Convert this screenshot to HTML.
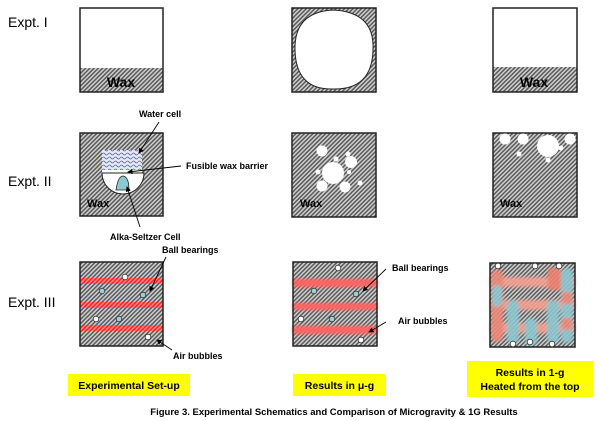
<!DOCTYPE html>
<html><head><meta charset="utf-8"><style>
body{margin:0;background:#fff;}
svg{display:block;font-family:"Liberation Sans",Arial,sans-serif;}
</style></head><body>
<svg width="600" height="421" viewBox="0 0 600 421" xmlns="http://www.w3.org/2000/svg">
<defs>
<pattern id="h" width="3" height="3" patternUnits="userSpaceOnUse" patternTransform="rotate(45)">
<rect width="3" height="3" fill="#cfcfcf"/><rect width="1.5" height="3" fill="#5a5a5a"/>
</pattern>
<pattern id="r" width="3" height="3" patternUnits="userSpaceOnUse" patternTransform="rotate(45)">
<rect width="3" height="3" fill="#ff8a8a"/><rect width="1.5" height="3" fill="#ff2020"/>
</pattern>
<pattern id="w" width="6" height="4" patternUnits="userSpaceOnUse">
<rect width="6" height="4" fill="#e8e8f8"/><path d="M0 2 Q1.5 0 3 2 T6 2" stroke="#5060c0" stroke-width="0.8" fill="none"/>
</pattern>
<marker id="a" markerWidth="6" markerHeight="6" refX="5" refY="3" orient="auto"><path d="M0,0 L6,3 L0,6z" fill="#000"/></marker>
<filter id="b"><feGaussianBlur stdDeviation="1.5"/></filter>
</defs>
<g font-size="14" fill="#000">
<text x="8" y="27">Expt. I</text>
<text x="8" y="186">Expt. II</text>
<text x="8" y="307">Expt. III</text>
</g>
<!-- Row 1 -->
<rect x="80" y="8" width="83" height="84" fill="#fff"/>
<rect x="80" y="68" width="83" height="24" fill="url(#h)"/>
<rect x="80" y="8" width="83" height="84" fill="none" stroke="#222" stroke-width="1.5"/>
<text x="121" y="87" font-size="14" font-weight="bold" text-anchor="middle">Wax</text>
<rect x="292" y="8" width="84" height="84" fill="url(#h)"/>
<path d="M333,10 Q375,12 373,50 Q372,90 333,89 Q296,90 295,50 Q294,12 333,10Z" fill="#fff" stroke="#222"/>
<rect x="292" y="8" width="84" height="84" fill="none" stroke="#222" stroke-width="1.5"/>
<rect x="493" y="8" width="84" height="84" fill="#fff"/>
<rect x="493" y="67" width="84" height="25" fill="url(#h)"/>
<rect x="493" y="8" width="84" height="84" fill="none" stroke="#222" stroke-width="1.5"/>
<text x="534" y="87" font-size="14" font-weight="bold" text-anchor="middle">Wax</text>
<!-- Row 2 -->
<rect x="80" y="133" width="83" height="83" fill="url(#h)" stroke="#222" stroke-width="1.5"/>
<rect x="102" y="150" width="40" height="23" fill="url(#w)"/>
<rect x="102" y="170" width="40" height="3" fill="#fff"/>
<path d="M102,173 A21,21 0 0 0 144,173Z" fill="#fff" stroke="#222"/>
<path d="M116,190 Q118,176 123,176 Q129,177 129,190Z" fill="#8cc8d0" stroke="#222" stroke-width="0.8"/>
<text x="87" y="207" font-size="11" font-weight="bold">Wax</text>
<g font-size="9" font-weight="bold">
<text x="139" y="117">Water cell</text>
<text x="186" y="169">Fusible wax barrier</text>
<text x="110" y="240">Alka-Seltzer Cell</text>
</g>
<g stroke="#000" stroke-width="0.9" fill="none" marker-end="url(#a)">
<line x1="159" y1="122" x2="139" y2="153"/>
<line x1="181" y1="166" x2="128" y2="172"/>
<line x1="140" y1="227" x2="127" y2="187"/>
</g>
<rect x="292" y="133" width="84" height="84" fill="url(#h)" stroke="#222" stroke-width="1.5"/>
<g fill="#fff">
<circle cx="333" cy="173" r="11"/><circle cx="322" cy="151" r="5.5"/><circle cx="351" cy="162" r="6"/>
<circle cx="336" cy="159" r="2.5"/><circle cx="348" cy="154" r="2.5"/><circle cx="322" cy="186" r="5.5"/>
<circle cx="345" cy="187" r="5.5"/><circle cx="318" cy="172" r="2.5"/><circle cx="360" cy="183" r="2.5"/><circle cx="349" cy="172" r="2"/>
</g>
<text x="300" y="207" font-size="11" font-weight="bold">Wax</text>
<rect x="493" y="133" width="84" height="84" fill="url(#h)" stroke="#222" stroke-width="1.5"/>
<g fill="#fff">
<circle cx="505" cy="139" r="5.5"/><circle cx="523" cy="139" r="5.5"/><circle cx="548" cy="146" r="11"/>
<circle cx="570" cy="139" r="5.5"/><circle cx="561" cy="148" r="2.5"/><circle cx="519" cy="154" r="2.5"/><circle cx="548" cy="160" r="2.5"/>
</g>
<text x="500" y="207" font-size="11" font-weight="bold">Wax</text>
<!-- Row 3 col1 -->
<rect x="80" y="262" width="83" height="84" fill="url(#h)"/>
<rect x="80" y="278" width="83" height="6" fill="url(#r)"/>
<rect x="80" y="302" width="83" height="6" fill="url(#r)"/>
<rect x="80" y="325" width="83" height="6" fill="url(#r)"/>
<rect x="80" y="262" width="83" height="84" fill="none" stroke="#222" stroke-width="1.5"/>
<g stroke="#333" stroke-width="0.8">
<circle cx="125" cy="277" r="2.8" fill="#fff"/><circle cx="102" cy="291" r="2.8" fill="#9cd0d4"/><circle cx="143" cy="295" r="2.8" fill="#9cd0d4"/>
<circle cx="96" cy="319" r="2.8" fill="#fff"/><circle cx="119" cy="319" r="2.8" fill="#9cd0d4"/><circle cx="148" cy="337" r="2.8" fill="#fff"/>
</g>
<g font-size="9" font-weight="bold"><text x="162" y="253">Ball bearings</text><text x="173" y="359">Air bubbles</text></g>
<g stroke="#000" stroke-width="0.9" marker-end="url(#a)">
<line x1="166" y1="257" x2="150" y2="291"/><line x1="172" y1="350" x2="157" y2="340"/>
</g>
<!-- Row 3 col2 -->
<rect x="293" y="262" width="84" height="84" fill="url(#h)"/>
<g filter="url(#b)"><rect x="293" y="279" width="84" height="8" fill="url(#r)"/>
<rect x="293" y="303" width="84" height="7" fill="url(#r)"/>
<rect x="293" y="326" width="84" height="8" fill="url(#r)"/></g>
<rect x="293" y="262" width="84" height="84" fill="none" stroke="#222" stroke-width="1.5"/>
<g stroke="#333" stroke-width="0.8">
<circle cx="338" cy="268" r="2.8" fill="#fff"/><circle cx="314" cy="291" r="2.8" fill="#9cd0d4"/><circle cx="356" cy="294" r="2.8" fill="#9cd0d4"/>
<circle cx="301" cy="319" r="2.8" fill="#fff"/><circle cx="332" cy="319" r="2.8" fill="#9cd0d4"/><circle cx="361" cy="340" r="2.8" fill="#fff"/>
</g>
<g font-size="9" font-weight="bold"><text x="392" y="271">Ball bearings</text><text x="398" y="324">Air bubbles</text></g>
<g stroke="#000" stroke-width="0.9" marker-end="url(#a)">
<line x1="386" y1="269" x2="363" y2="291"/><line x1="386" y1="322" x2="369" y2="332"/>
</g>
<!-- Row 3 col3 -->
<rect x="490" y="263" width="85" height="84" fill="url(#h)"/>
<g filter="url(#b)" opacity="0.9">
<rect x="490" y="277" width="85" height="10" fill="#f4a090"/>
<rect x="490" y="300" width="85" height="10" fill="#f4a090"/>
<rect x="490" y="323" width="85" height="10" fill="#f4a090"/>
<rect x="491" y="270" width="12" height="72" rx="6" fill="#f08878"/>
<rect x="492" y="285" width="10" height="22" rx="5" fill="#8cc8d0"/>
<rect x="548" y="268" width="13" height="22" fill="#f08070"/>
<rect x="561" y="268" width="12" height="75" rx="6" fill="#8cc8d0"/>
<rect x="562" y="292" width="10" height="12" fill="#f08878"/>
<rect x="562" y="318" width="10" height="12" fill="#f08878"/>
<rect x="507" y="300" width="12" height="44" rx="6" fill="#8cc8d0"/>
<rect x="525" y="318" width="12" height="28" rx="6" fill="#8cc8d0"/>
<rect x="547" y="300" width="12" height="44" rx="6" fill="#8cc8d0"/>
</g>
<rect x="490" y="263" width="85" height="84" fill="none" stroke="#222" stroke-width="1.5"/>
<g stroke="#333" stroke-width="0.8" fill="#fff">
<circle cx="498" cy="266" r="2.8"/><circle cx="535" cy="266" r="2.8"/><circle cx="559" cy="266" r="2.8"/>
<circle cx="513" cy="344" r="2.8"/><circle cx="530" cy="342" r="2.8"/><circle cx="552" cy="344" r="2.8"/>
</g>
<!-- Yellow labels -->
<rect x="68" y="374" width="122" height="22" fill="#ffff00"/>
<text x="129" y="389" font-size="10.5" font-weight="bold" text-anchor="middle">Experimental Set-up</text>
<rect x="293" y="374" width="93" height="22" fill="#ffff00"/>
<text x="339.5" y="389" font-size="10.5" font-weight="bold" text-anchor="middle">Results in μ-g</text>
<rect x="467" y="361" width="126" height="36" fill="#ffff00"/>
<text x="530" y="376" font-size="10.5" font-weight="bold" text-anchor="middle">Results in 1-g</text>
<text x="530" y="390" font-size="10.5" font-weight="bold" text-anchor="middle">Heated from the top</text>
<text x="334" y="415" font-size="9.5" font-weight="bold" text-anchor="middle">Figure 3. Experimental Schematics and Comparison of Microgravity &amp; 1G Results</text>
</svg>
</body></html>
